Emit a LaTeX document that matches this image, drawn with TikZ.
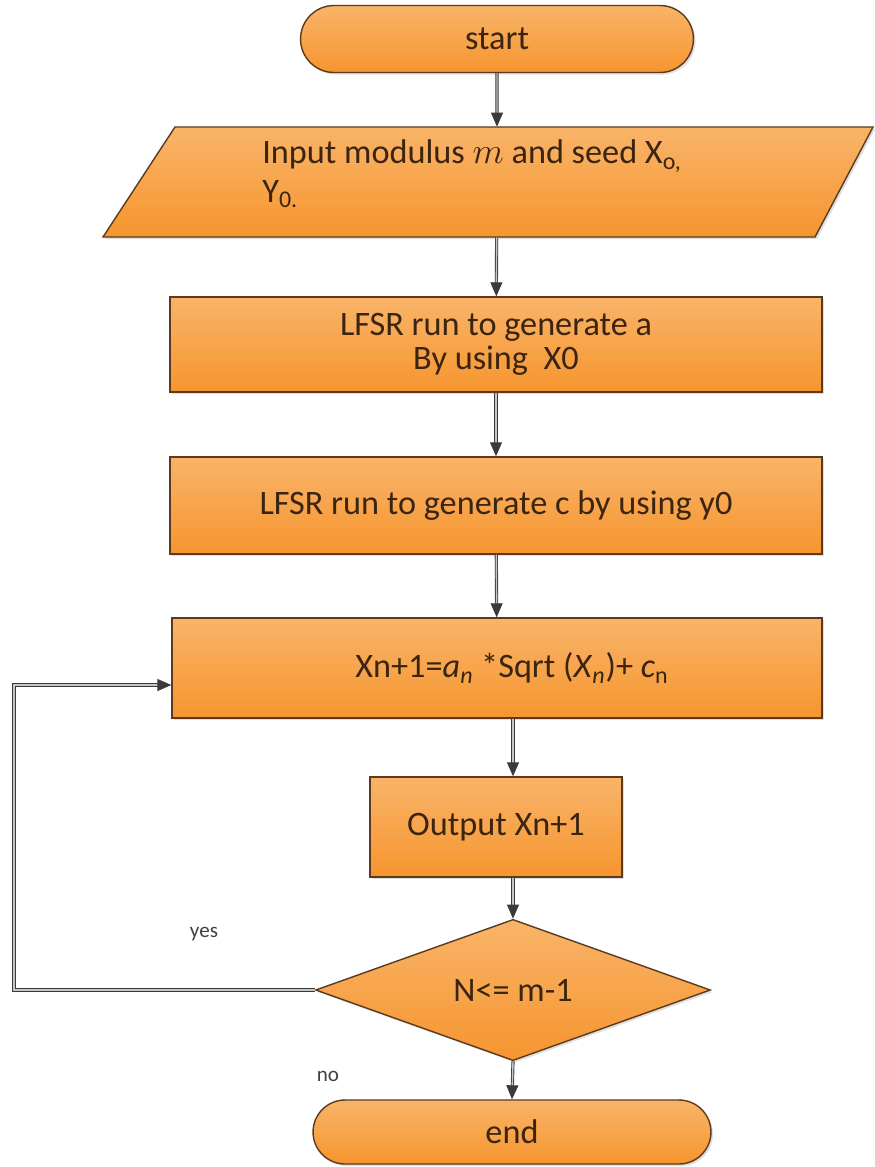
\documentclass[tikz,border=0pt]{standalone}
\usepackage{fontspec}
\setmainfont{Carlito}
\usetikzlibrary{shapes.geometric,shapes.misc,arrows.meta,shadows}
\definecolor{fillTop}{HTML}{F9B469}
\definecolor{fillBot}{HTML}{F6952F}
\definecolor{edge}{HTML}{5C3A1E}
\definecolor{txt}{HTML}{3B2410}
\definecolor{lineC}{HTML}{3A3A3A}
\tikzset{
  orangebox/.style={draw=edge, line width=0.8pt, top color=fillTop, bottom color=fillBot,
    text=txt, font=\fontsize{19.5}{19}\selectfont, inner sep=0pt,
    drop shadow={shadow xshift=1.2pt, shadow yshift=-1.2pt, opacity=0.25, fill=gray}},
  procbox/.style={orangebox, rectangle, align=center},
  termbox/.style={orangebox, rounded rectangle},
  decbox/.style={orangebox, diamond},
  conn/.style={draw=lineC, line width=0.5pt, double=gray!45, double distance=0.8pt,
    -{Triangle[length=2.8mm, width=2.4mm, fill=lineC]}},
  lbl/.style={font=\fontsize{12}{14}\selectfont, text=black!75}
}
\begin{document}
\begin{tikzpicture}[x=0.02cm, y=-0.02cm]
\useasboundingbox[fill=white] (0,0) rectangle (875,1167);

% start
\node[termbox, minimum width=7.86cm, minimum height=1.34cm] (start) at (497,39) {start};

% input parallelogram
\shade[top color=fillTop, bottom color=fillBot, draw=edge, line width=0.8pt,
  drop shadow={shadow xshift=1.2pt, shadow yshift=-1.2pt, opacity=0.25, fill=gray}]
  (175,127) -- (873,127) -- (815,237) -- (103,237) -- cycle;
\node[draw=none, minimum width=2cm, minimum height=2.2cm, inner sep=0pt] (input) at (497,182) {};
\node[anchor=west, align=left, text=txt, font=\fontsize{19.5}{22}\selectfont, inner sep=0pt] (intext) at (262,174)
  {Input modulus $m$ and seed X\textsubscript{o,}\\Y\textsubscript{0.}};

% process boxes
\node[procbox, minimum width=13.04cm, minimum height=1.9cm] (box1) at (496,344.5)
  {LFSR run to generate a\\By using\ \ X0};
\node[procbox, minimum width=13.04cm, minimum height=1.94cm] (box2) at (496,505.5)
  {LFSR run to generate c by using y0};
\node[procbox, minimum width=13cm, minimum height=2cm] (box3) at (497,668)
  {\hspace*{0.6cm}Xn+1=\textit{a}\textsubscript{\textit{n}} *Sqrt (\textit{X}\textsubscript{\textit{n}})+ \textit{c}\textsubscript{n}};
\node[procbox, minimum width=5.04cm, minimum height=2cm] (out) at (496,827)
  {Output Xn+1};

% decision
\node[decbox, minimum width=7.9cm, minimum height=2.12cm] (dec) at (513,990) {N<= m-1};

% end
\node[termbox, minimum width=7.96cm, minimum height=1.28cm] (end) at (512,1132) {end};

% labels
\node[lbl] (yes) at (204,934) {yes};
\node[lbl] (no) at (328,1076) {no};

% connectors
\draw[conn] (start) -- (input);
\draw[conn] (input) -- (box1);
\draw[conn] (box1) -- (box2);
\draw[conn] (box2) -- (box3);
\draw[conn] (box3.south -| dec.north) -- (out.north -| dec.north);
\draw[conn] (out.south -| dec.north) -- (dec.north);
\draw[conn] (dec.south) -- (end.north);
\coordinate (lc) at (14,685);
\draw[conn] (dec.west) -| (lc) -- (lc -| box3.west);
\end{tikzpicture}
\end{document}
